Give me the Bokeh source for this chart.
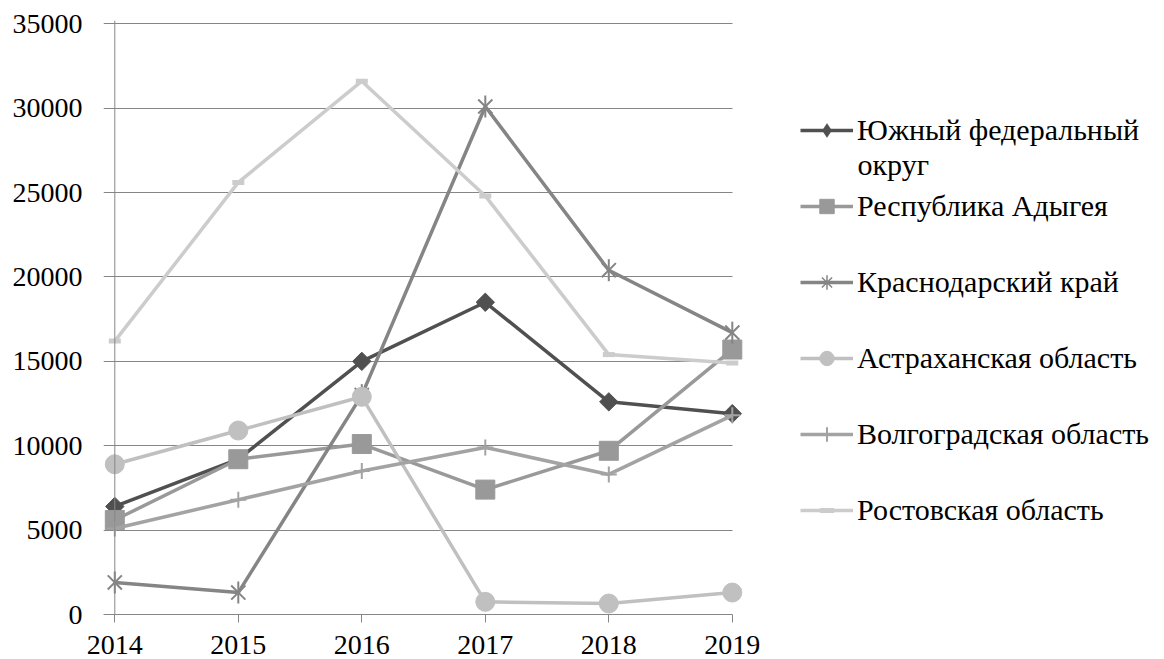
import math

from bokeh.plotting import figure
from bokeh.models import Range1d, FixedTicker, Legend, LegendItem, Span, Label
from bokeh.embed import file_html
from bokeh.resources import INLINE

# ---- data -------------------------------------------------------------
years = [2014, 2015, 2016, 2017, 2018, 2019]
y_ticks = [0, 5000, 10000, 15000, 20000, 25000, 30000, 35000]

yufo = [6400, 9200, 15000, 18500, 12600, 11900]          # Южный федеральный округ
adygea = [5600, 9200, 10100, 7400, 9700, 15700]          # Республика Адыгея
krasnodar = [1900, 1300, 13000, 30100, 20400, 16700]     # Краснодарский край
astrakhan = [8900, 10900, 12900, 750, 650, 1300]         # Астраханская область
volgograd = [5100, 6800, 8500, 9900, 8300, 11800]        # Волгоградская область
rostov = [16200, 25600, 31600, 24800, 15400, 14900]      # Ростовская область

legend_labels = [
    "Южный федеральный",
    "Республика Адыгея",
    "Краснодарский край",
    "Астраханская область",
    "Волгоградская область",
    "Ростовская область",
]
legend_wrap = "округ"   # second line of the first entry

# ---- layout -----------------------------------------------------------
W, H = 1164, 659
LEFT, TOP, BOTTOM = 103, 20, 614
FIRST_YEAR_PX = 114.3
PX_PER_YEAR = 123.5
TOP_TICK_PX = 23.3
y_max = y_ticks[-1]

x_start = years[0] - (FIRST_YEAR_PX - LEFT) / PX_PER_YEAR
x_end = x_start + (W - LEFT) / PX_PER_YEAR


def px_to_x(px):
    return x_start + (px - LEFT) / PX_PER_YEAR


def px_to_y(py):
    return (BOTTOM - py) / (BOTTOM - TOP_TICK_PX) * y_max


y_end = px_to_y(TOP)

FONT = "Liberation Serif"
GRID = "#868686"

p = figure(
    width=W, height=H,
    x_range=Range1d(x_start, x_end), y_range=Range1d(0, y_end),
    output_backend="svg", toolbar_location=None,
    min_border_left=LEFT, min_border_right=0,
    min_border_top=TOP, min_border_bottom=H - BOTTOM,
)
p.outline_line_color = None
p.background_fill_color = "white"
p.border_fill_color = "white"

# x axis: years with outward tick marks
xa = p.xaxis[0]
xa.ticker = FixedTicker(ticks=years)
xa.bounds = (x_start, years[-1])
xa.axis_line_color = GRID
xa.major_tick_line_color = GRID
xa.major_tick_out = 8
xa.major_tick_in = 0
xa.minor_tick_out = 0
xa.minor_tick_in = 0
xa.major_label_standoff = 13
xa.major_label_text_font = FONT
xa.major_label_text_font_size = "28px"
xa.major_label_text_color = "black"

# y axis: labels only, the axis line sits at the first year
ya = p.yaxis[0]
ya.ticker = FixedTicker(ticks=y_ticks)
ya.axis_line_color = None
ya.major_tick_line_color = None
ya.minor_tick_line_color = None
ya.major_label_standoff = 15
ya.major_label_text_font = FONT
ya.major_label_text_font_size = "28px"
ya.major_label_text_color = "black"

p.xgrid.visible = False
p.ygrid.ticker = FixedTicker(ticks=y_ticks)
p.ygrid.grid_line_color = GRID
p.ygrid.grid_line_width = 1
try:
    p.ygrid.cross_bounds = (x_start, years[-1])
except AttributeError:
    pass

p.add_layout(Span(location=years[0], dimension="height", line_color=GRID, line_width=1))

# ---- series -----------------------------------------------------------
LW = 3.5
items = []


def add_series(label, values, color, markers, legend_marker=None):
    r_line = p.line(years, values, line_color=color, line_width=LW)
    rs = [r_line]
    for m in markers:
        r = p.scatter(years, values, **m)
        if legend_marker is None:
            rs.append(r)
    if legend_marker is not None:
        # tiny marker hidden under the real ones; the legend draws it full size
        rs.append(p.scatter(years, values, size=0.1, **legend_marker))
    items.append(LegendItem(label=label, renderers=rs))


add_series(legend_labels[0], yufo, "#505050",
           [dict(marker="square", size=13, angle=math.pi / 4,
                 fill_color="#505050", line_color="#505050")],
           legend_marker=dict(marker="diamond", fill_color="#505050",
                              line_color="#505050", line_width=0.1))
add_series(legend_labels[1], adygea, "#999999",
           [dict(marker="square", size=19, fill_color="#999999", line_color="#999999")])
add_series(legend_labels[2], krasnodar, "#858585",
           [dict(marker="x", size=20, line_color="#858585", line_width=2),
            dict(marker="dash", size=22, angle=math.pi / 2, line_color="#858585", line_width=2)],
           legend_marker=dict(marker="asterisk", line_color="#858585", line_width=1.5))
add_series(legend_labels[3], astrakhan, "#c0c0c0",
           [dict(marker="circle", size=19, fill_color="#c0c0c0", line_color="#c0c0c0")])
add_series(legend_labels[4], volgograd, "#a3a3a3",
           [dict(marker="cross", size=16, line_color="#a3a3a3", line_width=2)])
add_series(legend_labels[5], rostov, "#cccccc",
           [dict(marker="dash", size=12, line_color="#cccccc", line_width=5)])

# ---- legend -----------------------------------------------------------
legend = Legend(
    items=items, location=(800 - LEFT, 86), orientation="vertical",
    glyph_width=53, glyph_height=36, label_height=36, spacing=40,
    padding=0, margin=0, label_standoff=4,
    border_line_color=None, background_fill_alpha=0,
    label_text_font=FONT, label_text_font_size="30px", label_text_color="black",
)
p.add_layout(legend)

p.add_layout(Label(
    x=px_to_x(857), y=px_to_y(163.7), text=legend_wrap,
    text_font=FONT, text_font_size="30px", text_color="black",
    text_baseline="middle", text_align="left",
))

open("out.html", "w").write(file_html(p, INLINE))
